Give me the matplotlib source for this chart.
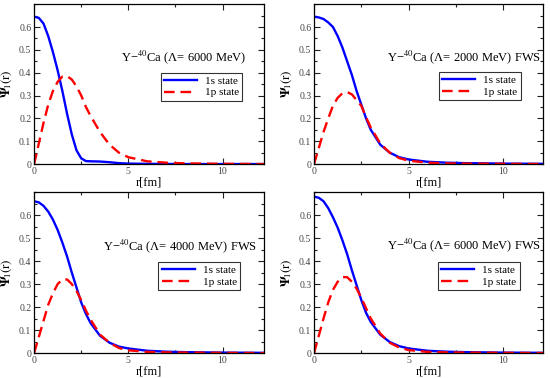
import matplotlib
matplotlib.use("Agg")
import matplotlib.pyplot as plt
from matplotlib.ticker import MultipleLocator

plt.rcParams['font.family'] = ['Liberation Serif', 'DejaVu Serif']
plt.rcParams['mathtext.fontset'] = 'stix'

# r grid [fm]
r = [0, 0.25, 0.5, 0.75, 1.0, 1.25, 1.5, 1.75, 2.0, 2.25, 2.5, 2.75,
     3.0, 3.5, 4.0, 4.5, 5.0, 6.0, 7.0, 8.0, 10.0, 12.2]

# panel 1: Lambda = 6000 MeV
s1_a = [0.645, 0.64, 0.615, 0.56, 0.49, 0.41, 0.32, 0.22, 0.13, 0.06, 0.025, 0.013,
        0.012, 0.011, 0.008, 0.004, 0.002, 0.001, 0.0005, 0.0, 0.0, 0.0]
p1_a = [0.0, 0.09, 0.18, 0.26, 0.32, 0.36, 0.383, 0.385, 0.37, 0.34, 0.30, 0.25,
        0.21, 0.14, 0.085, 0.05, 0.03, 0.012, 0.006, 0.003, 0.001, 0.0]

# panel 2: Lambda = 2000 MeV FWS
s1_b = [0.645, 0.642, 0.635, 0.62, 0.60, 0.56, 0.51, 0.45, 0.39, 0.32, 0.26, 0.20,
        0.15, 0.085, 0.05, 0.03, 0.02, 0.01, 0.006, 0.004, 0.002, 0.001]
p1_b = [0.0, 0.07, 0.14, 0.20, 0.255, 0.29, 0.31, 0.315, 0.305, 0.28, 0.255, 0.205,
        0.16, 0.09, 0.05, 0.026, 0.015, 0.006, 0.003, 0.002, 0.001, 0.0]

# panel 3: Lambda = 4000 MeV FWS
s1_c = [0.66, 0.655, 0.64, 0.615, 0.58, 0.535, 0.48, 0.42, 0.35, 0.285, 0.22, 0.17,
        0.13, 0.075, 0.045, 0.028, 0.02, 0.01, 0.006, 0.004, 0.002, 0.001]
p1_c = [0.0, 0.07, 0.14, 0.21, 0.26, 0.30, 0.32, 0.32, 0.30, 0.27, 0.23, 0.185,
        0.145, 0.08, 0.045, 0.022, 0.012, 0.005, 0.003, 0.002, 0.001, 0.0]

# panel 4: Lambda = 6000 MeV FWS
s1_d = [0.68, 0.675, 0.66, 0.63, 0.59, 0.545, 0.49, 0.43, 0.36, 0.295, 0.23, 0.175,
        0.135, 0.08, 0.048, 0.03, 0.02, 0.01, 0.006, 0.004, 0.002, 0.001]
p1_d = [0.0, 0.075, 0.15, 0.22, 0.275, 0.31, 0.33, 0.33, 0.31, 0.28, 0.24, 0.195,
        0.15, 0.085, 0.045, 0.024, 0.013, 0.005, 0.003, 0.002, 0.001, 0.0]

titles = [u'Y\u2212$^{40}$Ca (\u039b= 6000 MeV)',
          u'Y\u2212$^{40}$Ca (\u039b= 2000 MeV) FWS',
          u'Y\u2212$^{40}$Ca (\u039b= 4000 MeV) FWS',
          u'Y\u2212$^{40}$Ca (\u039b= 6000 MeV) FWS']
yticks = [0, 0.1, 0.2, 0.3, 0.4, 0.5, 0.6]
yticklabels = ['0', '0.1', '0.2', '0.3', '0.4', '0.5', '0.6']
xticks = [0, 5, 10]

panels = [(s1_a, p1_a), (s1_b, p1_b), (s1_c, p1_c), (s1_d, p1_d)]

# axes boxes in figure fraction
boxes = [[0.062, 0.566, 0.418, 0.423],
         [0.571, 0.566, 0.416, 0.423],
         [0.062, 0.066, 0.418, 0.426],
         [0.571, 0.066, 0.416, 0.426]]
xmax = [12.2, 12.1, 12.2, 12.1]
text_pos = [(0.38, 0.665), (0.32, 0.67), (0.30, 0.665), (0.32, 0.67)]
leg_pos = [(0.55, 0.57), (0.545, 0.575), (0.54, 0.565), (0.54, 0.565)]

fig = plt.figure(figsize=(5.5, 3.78), dpi=100)
for i in range(4):
    ax = fig.add_axes(boxes[i])
    s, p = panels[i]
    ax.plot(r, s, color='#0000ff', lw=1.7, label='1s state')
    ax.plot(r, p, color='#ff0000', lw=1.7, dashes=(4.5, 2.5), label='1p state')
    ax.set_xlim(0, xmax[i])
    ax.set_ylim(0, 0.7)
    ax.set_xticks(xticks)
    ax.set_yticks(yticks)
    ax.set_yticklabels(yticklabels)
    ax.xaxis.set_minor_locator(MultipleLocator(2.5))
    ax.yaxis.set_minor_locator(MultipleLocator(0.05))
    ax.tick_params(which='both', direction='in', top=True, right=True,
                   labelsize=7, width=0.8, colors='#222222', labelcolor='#444444',
                   pad=2)
    ax.tick_params(which='major', length=4)
    ax.tick_params(which='minor', length=2)
    for sp in ax.spines.values():
        sp.set_linewidth(0.9)
    ax.set_xlabel('r[fm]', fontsize=9, va='top')
    ax.xaxis.set_label_coords(0.5, -0.08)
    ax.set_ylabel(r'$\mathbf{\Psi}_{\rm l}(\rm r)$', fontsize=9.5)
    ax.yaxis.set_label_coords(-0.088, 0.5)
    ax.text(text_pos[i][0], text_pos[i][1], titles[i], transform=ax.transAxes,
            fontsize=9, va='center', ha='left')
    leg = ax.legend(loc='upper left', bbox_to_anchor=leg_pos[i], fontsize=8,
                    frameon=True, fancybox=False, handlelength=3.0,
                    borderpad=0.3, labelspacing=0.15, handletextpad=0.7,
                    borderaxespad=0)
    leg.get_frame().set_edgecolor('black')
    leg.get_frame().set_linewidth(0.8)

fig.savefig('out.png', dpi=100)
